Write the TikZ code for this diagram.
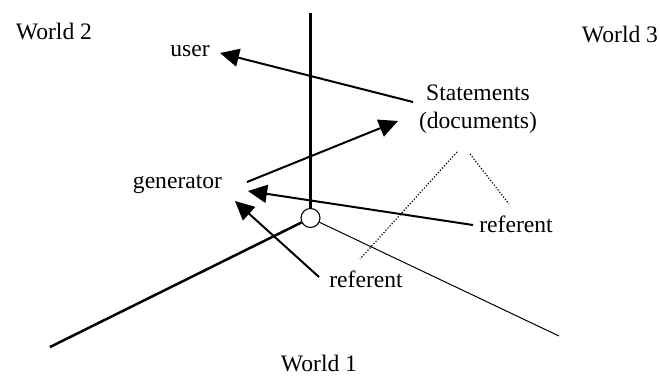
\documentclass[tikz,border=0pt]{standalone}
\usepackage{fontspec}
\setmainfont{Liberation Serif}
\usetikzlibrary{arrows.meta}
\begin{document}
\begin{tikzpicture}[x=1pt,y=-1pt,
  lbl/.style={anchor=base,inner sep=0pt,font=\fontsize{23.6}{28}\selectfont},
  axis/.style={line width=2.5pt},
  thinaxis/.style={line width=1pt},
  link/.style={line width=2pt,-{Triangle[length=19pt,width=18pt]}},
  guide/.style={line width=1.2pt,dash pattern=on 1.2pt off 1.8pt}]
\useasboundingbox (0,0) rectangle (660,376);

% labels
\node[lbl] (w2)   at (54,39)   {World 2};
\node[lbl] (w3)   at (620,42)  {World 3};
\node[lbl] (w1)   at (319,371) {World 1};
\node[lbl] (user) at (190,56)  {user};
\node[lbl] (stmt) at (478,100) {Statements};
\node[lbl] (docs) at (478,128) {(documents)};
\node[lbl] (gen)  at (177.5,188) {generator};
\node[lbl] (refA) at (516,232) {referent};
\node[lbl] (refB) at (366,287) {referent};

% the three world axes meeting at the hub
\node[draw,circle,line width=1.1pt,minimum size=19pt,inner sep=0pt] (hub) at (310.5,218) {};
\coordinate (top) at (310.5,13);
\coordinate (left) at (50,347);
\coordinate (right) at (559,336);
\draw[axis] (top) -- (hub.north);
\draw[axis] (left) -- (hub);
\draw[thinaxis] (hub) -- (right);

% arrow end points
\coordinate (stmtL) at (413,102);
\coordinate (userR) at (220,53);
\coordinate (genR)  at (247,182);
\coordinate (stmtB) at (398,121);
\coordinate (refAL) at (473,225);
\coordinate (genRb) at (248,191);
\coordinate (refBT) at (319,277);
\coordinate (genB)  at (235,201);

\draw[link] (stmtL) -- (userR);
\draw[link] (genR) -- (stmtB);
\draw[link] (refAL) -- (genRb);
\draw[link] (refBT) -- (genB);

% dotted guides under the statements
\coordinate (d1a) at (457,152);
\coordinate (d1b) at (360,259);
\coordinate (d2a) at (470,154);
\coordinate (d2b) at (509,204);
\draw[guide] (d1a) -- (d1b);
\draw[guide] (d2a) -- (d2b);
\end{tikzpicture}
\end{document}
